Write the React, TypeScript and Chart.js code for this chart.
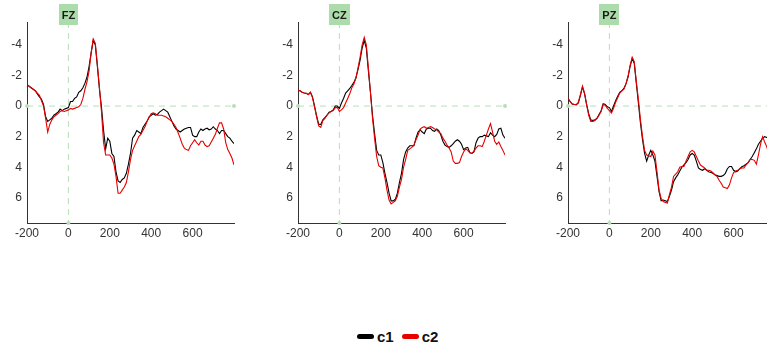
import React, { useEffect, useRef } from "react";
import { Chart, registerables } from "chart.js";
Chart.register(...registerables);

// time axis (ms), 10 ms grid
const times: number[] = Array.from({ length: 101 }, (_, i) => -200 + i * 10);
const xTickValues = [-200, 0, 200, 400, 600];
const yTickValues = [-4, -2, 0, 2, 4, 6];
const Y_MIN = -5.5;
const Y_MAX = 7.65;

const fzC1 = [
  -1.4, -1.3, -1.2, -1.1, -1.0, -0.8, -0.6, -0.45, -0.1, 0.7,
  1.0, 0.9, 0.8, 0.6, 0.5, 0.4, 0.2, 0.3, 0.2, 0.15,
  0.1, -0.3, -0.3, -0.5, -0.6, -0.9, -1.0, -1.2, -1.5, -1.9,
  -2.6, -3.5, -4.3, -4.0, -2.6, -1.1, 0.1, 1.6, 2.8, 2.1,
  2.3, 3.1, 3.3, 4.3, 4.9, 5.0, 4.8, 4.7, 4.4, 3.8,
  3.1, 2.1, 1.9, 1.6, 1.7, 1.8, 1.4, 1.2, 1.0, 0.7,
  0.6, 0.5, 0.6, 0.55, 0.4, 0.3, 0.2, 0.3, 0.4, 0.7,
  1.0, 1.3, 1.5, 1.6, 1.7, 1.6, 1.5, 1.45, 1.4, 1.4,
  1.9, 2.0, 2.0, 1.7, 1.5, 1.6, 1.5, 1.45, 1.55, 1.5,
  1.35, 1.5, 1.6, 1.8, 1.6, 1.6, 1.8, 2.0, 2.1, 2.3,
  2.45,
];
const fzC2 = [
  -1.4, -1.3, -1.2, -1.1, -1.0, -0.85, -0.7, -0.35, 0.0, 0.8,
  1.7, 1.2, 0.9, 0.7, 0.6, 0.5, 0.35, 0.3, 0.35, 0.3,
  0.25, 0.15, 0.2, 0.15, 0.1, 0.05, -0.1, -0.5, -1.1, -1.6,
  -2.3, -3.5, -4.4, -4.1, -2.7, -1.2, 0.4, 2.4, 3.2, 3.2,
  3.2, 3.4, 3.8, 4.6, 5.7, 5.7, 5.5, 5.3, 5.0, 4.3,
  3.5, 2.9, 2.6, 2.3, 2.0, 1.85, 1.6, 1.35, 1.0, 0.75,
  0.5, 0.45, 0.5, 0.6, 0.6, 0.6, 0.65, 0.7, 0.8, 0.9,
  1.0, 1.2, 1.4, 1.75, 2.1, 2.5, 2.75, 2.85, 2.9, 2.6,
  2.4, 2.2, 2.4, 2.55, 2.3, 2.3, 2.55, 2.65, 2.6, 2.35,
  2.1, 1.85, 1.45, 1.1, 1.1, 1.5, 2.4, 2.85, 3.1, 3.4,
  3.85,
];
const czC1 = [
  -1.0, -1.0, -0.9, -0.85, -0.83, -0.75, -0.9, -0.6, 0.0, 0.65,
  1.2, 1.2, 0.9, 0.75, 0.6, 0.4, 0.35, 0.25, 0.0, 0.0,
  0.15, -0.2, -0.5, -0.85, -1.0, -1.15, -1.35, -1.55, -1.85, -2.4,
  -3.0, -3.8, -4.3, -3.8, -2.3, -0.9, 0.6, 1.8, 2.9, 3.2,
  3.2, 3.7, 4.4, 5.0, 5.7, 6.2, 6.2, 6.1, 5.7, 5.0,
  4.4, 3.5, 3.0, 2.75, 2.6, 2.6, 2.6, 2.1, 1.7, 1.55,
  1.7, 1.8, 1.5, 1.45, 1.45, 1.6, 1.65, 1.5, 1.6, 1.9,
  2.3, 2.55, 2.65, 2.7, 2.6, 2.45, 2.3, 2.2, 2.3, 2.5,
  2.85, 2.75, 2.7, 3.05, 3.1, 3.0, 2.4, 2.1, 2.0, 2.0,
  1.9, 1.95, 2.0, 1.75, 1.9, 2.0, 1.85, 1.5, 1.45, 1.9,
  2.1,
];
const czC2 = [
  -1.0, -1.0, -0.9, -0.85, -0.83, -0.75, -0.9, -0.55, 0.05, 0.7,
  1.3, 1.4, 0.95, 0.8, 0.6, 0.45, 0.35, 0.3, 0.1, 0.1,
  0.35, 0.25, 0.1, -0.2, -0.5, -0.8, -1.2, -1.45, -1.85, -2.5,
  -3.2, -4.0, -4.5, -4.0, -2.5, -0.9, 0.8, 2.1, 3.3, 3.9,
  4.0, 4.05, 4.7, 5.5, 6.15, 6.4, 6.3, 6.2, 5.9, 5.3,
  4.8, 4.0, 3.5, 2.9, 2.8, 2.7, 2.55, 2.2, 1.9, 1.5,
  1.4, 1.35, 1.45, 1.4, 1.35, 1.4, 1.5, 1.55, 1.7, 1.8,
  2.1, 2.3, 2.55, 2.75, 3.0, 3.6, 3.75, 3.75, 3.7, 3.3,
  3.0, 2.8, 2.9, 3.05, 3.1, 2.95, 2.75, 2.6, 2.6, 2.65,
  2.3, 1.9, 1.5, 1.15, 1.7, 2.3, 2.5, 2.35, 2.65, 2.9,
  3.2,
];
const pzC1 = [
  -0.5, -0.3, -0.13, -0.1, -0.07, -0.2, -0.7, -1.25, -0.8, -0.1,
  0.5, 0.9, 0.95, 0.9, 0.8, 0.55, 0.3, -0.15, -0.1, 0.05,
  0.1, 0.35, 0.0, -0.35, -0.65, -0.9, -1.0, -1.15, -1.45, -1.9,
  -2.6, -3.1, -2.8, -1.5, -0.2, 1.1, 2.2, 3.1, 3.6, 3.2,
  2.9, 3.2, 3.6, 4.6, 5.6, 6.2, 6.15, 6.2, 6.25, 5.9,
  5.5, 4.95, 4.7, 4.5, 4.25, 4.0, 3.85, 3.7, 3.5, 3.2,
  3.1, 3.2, 3.6, 4.05, 4.15, 4.2, 4.1, 4.2, 4.3, 4.35,
  4.4, 4.5, 4.55, 4.6, 4.6, 4.55, 4.4, 4.1, 3.95, 3.95,
  4.2, 4.3, 4.25, 4.1, 3.97, 3.9, 3.8, 3.7, 3.5, 3.3,
  3.05, 2.8, 2.5, 2.3, 2.1, 2.0, 2.05, 2.0, 2.1, 2.3,
  2.4,
];
const pzC2 = [
  -0.5, -0.3, -0.15, -0.1, -0.1, -0.25, -0.75, -1.3, -0.85, -0.1,
  0.6, 1.0, 1.0, 0.95, 0.8, 0.6, 0.35, -0.1, -0.05, 0.15,
  0.3, 0.45, 0.15, -0.25, -0.55, -0.85, -1.0, -1.1, -1.45, -1.95,
  -2.65, -3.2, -2.9, -1.6, -0.45, 0.9, 2.0, 2.9, 3.2, 3.25,
  3.3, 2.95, 3.2, 4.3, 5.5, 6.05, 6.25, 6.3, 6.35, 5.8,
  5.3, 4.6, 4.45, 4.3, 4.0, 3.95, 3.95, 3.6, 3.3, 3.0,
  2.9, 3.0, 3.3, 3.6, 3.86, 3.95, 4.05, 4.2, 4.2, 4.25,
  4.35, 4.5, 4.6, 4.85, 5.05, 5.3, 5.35, 5.4, 5.15, 4.7,
  4.35, 4.25, 4.2, 4.1, 4.05, 4.05, 3.85, 3.7, 3.5, 3.5,
  3.55, 3.8, 3.2, 2.5, 2.0, 2.35, 2.65, 3.1, 3.3, 3.4,
  3.5,
];

const GREEN_LINE = "#b9deb9";
const TITLE_BG = "#acdcac";
const C1_COLOR = "#000000";
const C2_COLOR = "#e60000";
const AXIS_COLOR = "#333333";
const FONT = "'Liberation Sans', Arial, sans-serif";

const Y_AXIS_W = 27;
const PLOT_W = 207;
const CANVAS_W = 245;
const CANVAS_H = 250;
const TOP_PAD = 22;
const X_AXIS_H = 27;

const titlePlugin = {
  id: "eegTitle",
  afterDraw(chart: any) {
    const title = chart.options.plugins.eegTitle?.text;
    if (!title) return;
    const ctx = chart.ctx;
    const x = chart.scales.x.getPixelForValue(0);
    ctx.save();
    ctx.font = `bold 11px ${FONT}`;
    const w = ctx.measureText(title).width + 6;
    const h = 21;
    const top = 4;
    ctx.fillStyle = TITLE_BG;
    ctx.fillRect(Math.round(x - w / 2), top, Math.round(w), h);
    ctx.fillStyle = "#1a1a1a";
    ctx.textAlign = "center";
    ctx.textBaseline = "middle";
    ctx.fillText(title, x, top + h / 2 + 1);
    ctx.restore();
  },
};

function Panel({ left, title, c1, c2 }: { left: number; title: string; c1: number[]; c2: number[] }) {
  const ref = useRef<HTMLCanvasElement>(null);
  useEffect(() => {
    const chart = new Chart(ref.current as HTMLCanvasElement, {
      type: "line",
      data: {
        datasets: [
          {
            label: "c1",
            data: times.map((t, i) => ({ x: t, y: c1[i] })),
            borderColor: C1_COLOR,
            borderWidth: 1.1,
            pointRadius: 0,
            tension: 0,
            order: 2,
          },
          {
            label: "c2",
            data: times.map((t, i) => ({ x: t, y: c2[i] })),
            borderColor: C2_COLOR,
            borderWidth: 1.1,
            pointRadius: 0,
            tension: 0,
            order: 1,
          },
          {
            label: "zeroH",
            data: [
              { x: -200, y: 0 },
              { x: 800, y: 0 },
            ],
            borderColor: GREEN_LINE,
            borderDash: [6, 5],
            borderWidth: 1,
            pointRadius: 2,
            pointBorderWidth: 0,
            pointBackgroundColor: GREEN_LINE,
            clip: false,
            order: 5,
          },
          {
            label: "zeroV",
            data: [
              { x: 0, y: Y_MIN },
              { x: 0, y: Y_MAX },
            ],
            borderColor: GREEN_LINE,
            borderDash: [6, 5],
            borderWidth: 1,
            pointRadius: [0, 2],
            pointBorderWidth: 0,
            pointBackgroundColor: GREEN_LINE,
            clip: false,
            order: 5,
          },
        ] as any,
      },
      options: {
        responsive: false,
        animation: false,
        events: [],
        layout: { padding: { top: TOP_PAD, right: CANVAS_W - Y_AXIS_W - PLOT_W, left: 0, bottom: 0 } },
        plugins: {
          legend: { display: false },
          tooltip: { enabled: false },
          eegTitle: { text: title },
        } as any,
        scales: {
          x: {
            type: "linear",
            min: -200,
            max: 800,
            afterFit: (a: any) => {
              a.height = X_AXIS_H;
            },
            afterBuildTicks: (a: any) => {
              a.ticks = xTickValues.map((v) => ({ value: v }));
            },
            ticks: {
              color: AXIS_COLOR,
              font: { family: FONT, size: 12 },
              padding: 3,
              maxRotation: 0,
              autoSkip: false,
              callback: (v: any) => String(v),
            },
            grid: { display: false, drawTicks: false },
            border: { display: true, color: AXIS_COLOR, width: 1 },
          },
          y: {
            type: "linear",
            min: Y_MIN,
            max: Y_MAX,
            reverse: true,
            afterFit: (a: any) => {
              a.width = Y_AXIS_W;
            },
            afterBuildTicks: (a: any) => {
              a.ticks = yTickValues.map((v) => ({ value: v }));
            },
            ticks: {
              color: AXIS_COLOR,
              font: { family: FONT, size: 12 },
              padding: 5,
              autoSkip: false,
              callback: (v: any) => String(v),
            },
            grid: { display: false, drawTicks: false },
            border: { display: true, color: AXIS_COLOR, width: 1 },
          },
        },
      } as any,
      plugins: [titlePlugin],
    });
    return () => chart.destroy();
  }, []);
  return (
    <canvas
      ref={ref}
      width={CANVAS_W}
      height={CANVAS_H}
      style={{ position: "absolute", left, top: 0, width: CANVAS_W, height: CANVAS_H }}
    />
  );
}

function LegendItem({ color, label, gap }: { color: string; label: string; gap: number }) {
  return (
    <span style={{ display: "inline-flex", alignItems: "center", marginRight: gap }}>
      <span
        style={{
          display: "inline-block",
          width: 17,
          height: 5,
          borderRadius: 3,
          background: color,
          marginRight: 3,
        }}
      />
      <span style={{ fontFamily: FONT, fontWeight: "bold", fontSize: 15, color: "#111" }}>{label}</span>
    </span>
  );
}

export default function App() {
  return (
    <div
      style={{
        position: "fixed",
        left: 0,
        top: 0,
        width: 767,
        height: 347,
        overflow: "hidden",
        background: "#ffffff",
      }}
    >
      <Panel left={0} title="FZ" c1={fzC1} c2={fzC2} />
      <Panel left={271} title="CZ" c1={czC1} c2={czC2} />
      <Panel left={541} title="PZ" c1={pzC1} c2={pzC2} />
      <div
        style={{
          position: "absolute",
          left: 357,
          top: 326,
          height: 20,
          display: "flex",
          alignItems: "center",
          whiteSpace: "nowrap",
        }}
      >
        <LegendItem color={C1_COLOR} label="c1" gap={8} />
        <LegendItem color={C2_COLOR} label="c2" gap={0} />
      </div>
    </div>
  );
}
